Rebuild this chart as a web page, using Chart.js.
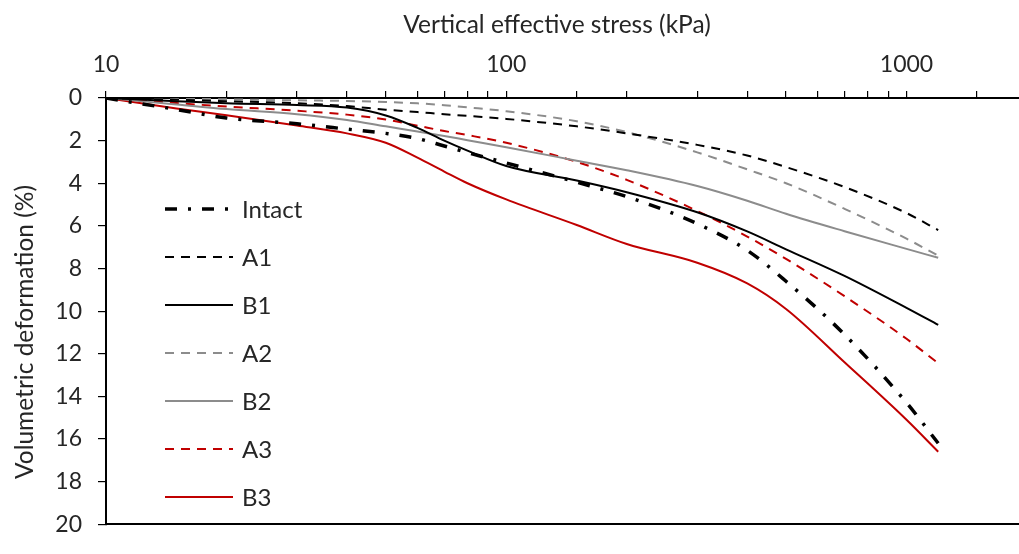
<!DOCTYPE html>
<html>
<head>
<meta charset="utf-8">
<script src="https://cdn.jsdelivr.net/npm/chart.js@4.4.1/dist/chart.umd.min.js"></script>
<style>
  html, body { margin: 0; padding: 0; background: #fff; overflow: hidden; }
  #wrap { width: 1040px; height: 554px; }
</style>
</head>
<body>
<div id="wrap"><canvas id="chart" width="1040" height="554"></canvas></div>
<script>
// vertical effective stress (kPa)
const stress = [10, 15, 20, 30, 40, 50, 60, 70, 80, 100, 150, 200, 300, 400, 500, 700, 1000, 1200];

// volumetric deformation (%)
const intact = [0, 0.54, 0.94, 1.21, 1.46, 1.66, 1.9, 2.25, 2.56, 3.05, 3.95, 4.63, 5.9, 7.15, 8.6, 11.1, 14.3, 16.2];
const a1 = [0, 0.08, 0.15, 0.25, 0.38, 0.55, 0.66, 0.76, 0.84, 0.98, 1.33, 1.66, 2.2, 2.7, 3.24, 4.18, 5.4, 6.2];
const b1 = [0, 0.15, 0.25, 0.33, 0.45, 0.82, 1.4, 2.0, 2.47, 3.19, 3.87, 4.42, 5.36, 6.26, 7.1, 8.35, 9.85, 10.65];
const a2 = [0, 0.03, 0.06, 0.11, 0.14, 0.19, 0.25, 0.34, 0.44, 0.62, 1.09, 1.6, 2.55, 3.35, 4.0, 5.2, 6.6, 7.4];
const b2 = [0, 0.3, 0.52, 0.76, 1.03, 1.33, 1.57, 1.78, 1.98, 2.31, 2.94, 3.39, 4.13, 4.82, 5.43, 6.25, 7.08, 7.5];
const a3 = [0, 0.24, 0.4, 0.6, 0.78, 1.01, 1.3, 1.55, 1.74, 2.1, 3.0, 3.84, 5.3, 6.5, 7.55, 9.3, 11.3, 12.45];
const b3 = [0, 0.49, 0.81, 1.29, 1.66, 2.1, 2.8, 3.45, 4.0, 4.76, 5.96, 6.85, 7.73, 8.7, 9.9, 12.4, 15.1, 16.6];

const xLabels = [10, 100, 1000];
const xTitle = 'Vertical effective stress (kPa)';
const yTitle = 'Volumetric deformation (%)';

const FONT = 'Lato, "DejaVu Sans", sans-serif';
const TEXT = '#262626';
const RED = '#c00000';
const GREY = '#8c8c8c';

const pts = (vals) => stress.map((s, i) => ({ x: s, y: vals[i] }));

const series = [
  { label: 'Intact', data: intact, color: '#000', width: 3.5, dash: [12, 11, 3, 11] },
  { label: 'A1', data: a1, color: '#000', width: 2, dash: [9, 7] },
  { label: 'B1', data: b1, color: '#000', width: 2, dash: [] },
  { label: 'A2', data: a2, color: GREY, width: 2, dash: [9, 7] },
  { label: 'B2', data: b2, color: GREY, width: 2, dash: [] },
  { label: 'A3', data: a3, color: RED, width: 2, dash: [9, 7] },
  { label: 'B3', data: b3, color: RED, width: 2, dash: [] },
];

const datasets = series.map((s) => ({
  label: s.label,
  data: pts(s.data),
  borderColor: s.color,
  backgroundColor: s.color,
  borderWidth: s.width,
  borderDash: s.dash,
  pointRadius: 0,
  cubicInterpolationMode: 'monotone',
  fill: false,
}));

// legend inside the plot + axis titles
const overlay = {
  id: 'overlay',
  afterDraw(chart) {
    const ctx = chart.ctx;
    ctx.save();
    ctx.font = '24px ' + FONT;
    ctx.fillStyle = TEXT;
    ctx.textBaseline = 'middle';

    chart.data.datasets.forEach((ds, i) => {
      const y = 209 + i * 48;
      ctx.beginPath();
      ctx.strokeStyle = ds.borderColor;
      ctx.lineWidth = ds.borderWidth;
      ctx.setLineDash(ds.borderDash);
      ctx.moveTo(165, y);
      ctx.lineTo(233, y);
      ctx.stroke();
      ctx.setLineDash([]);
      ctx.textAlign = 'left';
      ctx.fillText(ds.label, 242, y + 1);
    });

    ctx.font = '24.5px ' + FONT;
    ctx.textAlign = 'center';
    ctx.fillText(xTitle, 557, 25);
    ctx.translate(25, 332);
    ctx.rotate(-Math.PI / 2);
    ctx.fillText(yTitle, 0, 0);
    ctx.restore();
  }
};

new Chart(document.getElementById('chart'), {
  type: 'line',
  data: { datasets },
  options: {
    responsive: false,
    animation: false,
    devicePixelRatio: 1,
    layout: { padding: { left: 0, top: 0, right: 12, bottom: 0 } },
    plugins: { legend: { display: false }, tooltip: { enabled: false } },
    scales: {
      x: {
        type: 'logarithmic',
        position: 'top',
        min: 10,
        max: 2000,
        afterFit: (s) => { s.height = 98; },
        border: { display: true, color: '#000', width: 2 },
        grid: { display: true, drawOnChartArea: false, drawTicks: true, tickLength: 7, color: '#000', lineWidth: 1.2 },
        ticks: {
          autoSkip: false,
          maxRotation: 0,
          padding: 13,
          color: TEXT,
          font: { family: FONT, size: 23 },
          callback: (v) => (xLabels.includes(v) ? String(v) : ''),
        },
      },
      x2: {
        type: 'logarithmic',
        position: 'bottom',
        min: 10,
        max: 2000,
        afterFit: (s) => { s.height = 11; },
        border: { display: true, color: '#000', width: 2 },
        grid: { display: false },
        ticks: { display: false },
      },
      y: {
        reverse: true,
        min: 0,
        max: 20,
        afterFit: (s) => { s.width = 106; },
        border: { display: true, color: '#000', width: 2 },
        grid: { display: true, drawOnChartArea: false, drawTicks: true, tickLength: 8, color: '#000', lineWidth: 1.2 },
        ticks: {
          stepSize: 2,
          padding: 16,
          color: TEXT,
          font: { family: FONT, size: 23 },
        },
      },
    },
  },
  plugins: [overlay],
});
</script>
</body>
</html>
